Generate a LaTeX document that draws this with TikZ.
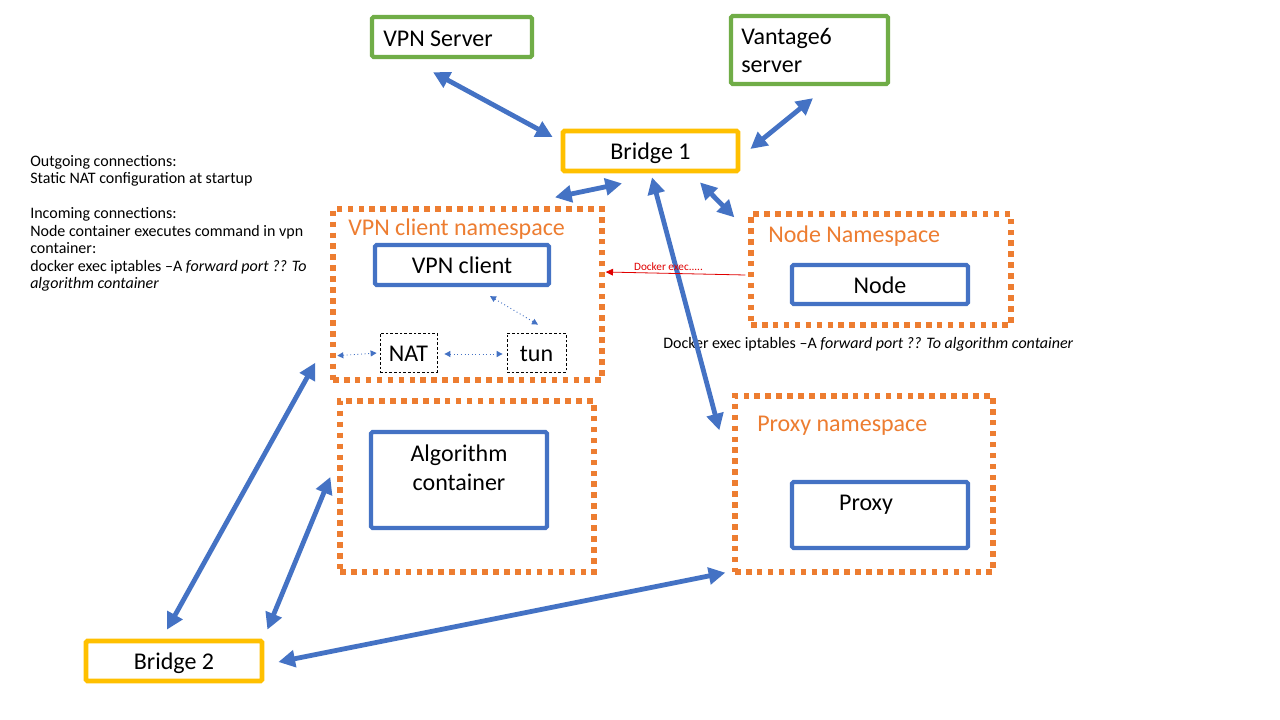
\documentclass[tikz,border=0pt]{standalone}
\usepackage{fontspec}
\setmainfont{Carlito}
\usetikzlibrary{arrows.meta,calc}
\definecolor{vblue}{HTML}{4472C4}
\definecolor{vgreen}{HTML}{70AD47}
\definecolor{vyellow}{HTML}{FFC000}
\definecolor{vorange}{HTML}{ED7D31}
\definecolor{vred}{HTML}{E00000}
\newcommand\myfs[2]{\fontsize{#1}{#2}\selectfont}
\begin{document}
\begin{tikzpicture}[x=0.75pt,y=-0.75pt,
  box/.style={rectangle, inner sep=0pt, line width=3.2pt, rounded corners=1.2pt, font=\myfs{18}{20}, text height=14.5pt, text depth=1.5pt},
  greenbox/.style={box, draw=vgreen},
  yellowbox/.style={box, draw=vyellow, line width=3.6pt},
  bluebox/.style={box, draw=vblue},
  nsbox/.style={rectangle, inner sep=0pt, draw=vorange, line width=4pt, dash pattern=on 4.2pt off 4pt},
  smallbox/.style={rectangle, inner sep=0pt, draw=black, line width=0.6pt, dash pattern=on 2pt off 1.5pt, font=\myfs{18}{20}, text height=14.5pt, text depth=1.5pt},
  nstitle/.style={anchor=west, inner sep=0pt, text=vorange, font=\myfs{18}{20}},
  plain/.style={inner sep=0pt, font=\myfs{18}{20}},
  big/.style={draw=vblue, line width=3.6pt, {Triangle[length=12.5pt,width=12.5pt]}-{Triangle[length=12.5pt,width=12.5pt]}},
  thin/.style={draw=vblue, line width=0.7pt, dotted, {Triangle[length=4.5pt,width=4.5pt]}-{Triangle[length=4.5pt,width=4.5pt]}},
  redarrow/.style={draw=vred, line width=0.6pt, -{Triangle[length=5.5pt,width=5pt]}}
]
\useasboundingbox[fill=white] (0,0) rectangle (1280,720);

% top servers
\node[greenbox, minimum width=120pt, minimum height=30pt] (vpnsrv) at (452,37) {};
\node[plain, anchor=west] (vpnsrvt) at (383,39) {VPN Server};
\node[greenbox, minimum width=117.75pt, minimum height=51pt] (v6srv) at (809.5,50) {};
\node[plain, anchor=north west, align=left] (v6srvt) at (741,28.5) {Vantage6\\[0.1ex]server};

% bridges
\node[yellowbox, minimum width=131.25pt, minimum height=30pt] (br1) at (650.5,151) {Bridge 1};
\node[yellowbox, minimum width=132pt, minimum height=30pt] (br2) at (174,661) {Bridge 2};

% VPN client namespace
\node[nsbox, minimum width=201.75pt, minimum height=128.25pt] (vcns) at (467.5,294.5) {};
\node[nstitle] (vcnst) at (348,229) {VPN client namespace};
\node[bluebox, minimum width=130.5pt, minimum height=30pt] (vpnc) at (462,265) {VPN client};
\node[smallbox, minimum width=42.75pt, minimum height=29.25pt] (nat) at (408.5,352.5) {NAT};
\node[smallbox, minimum width=44.25pt, minimum height=29.25pt] (tun) at (536.5,352.5) {tun};

% Node namespace
\node[nsbox, minimum width=195pt, minimum height=83.25pt] (nns) at (881,269.5) {};
\node[nstitle] (nnst) at (768,236) {Node Namespace};
\node[bluebox, minimum width=132pt, minimum height=29.25pt] (node) at (880,284.5) {Node};

% Proxy namespace
\node[nsbox, minimum width=193.5pt, minimum height=132pt] (pns) at (864,484) {};
\node[nstitle] (pnst) at (757,425.5) {Proxy namespace};
\node[bluebox, minimum width=132pt, minimum height=49.5pt] (prx) at (880,515) {};
\node[plain] (prxt) at (866,504.5) {Proxy};

% Algorithm namespace
\node[nsbox, minimum width=190.5pt, minimum height=128.25pt] (alns) at (467,486.5) {};
\node[bluebox, minimum width=132pt, minimum height=72pt] (alg) at (459,480) {};
\node[plain, align=center, font=\myfs{18}{21.8}] (algt) at (459,468) {Algorithm\\container};

% notes
\node[anchor=north west, inner sep=0pt, align=left, font=\myfs{12}{13.1}] (notes) at (30,155)
 {Outgoing connections:\\Static NAT configuration at startup\\[13.1pt]Incoming connections:\\Node container executes command in vpn\\container:\\docker exec iptables --A \textit{forward port ?? To}\\\textit{algorithm container}};
\node[anchor=west, inner sep=0pt, font=\myfs{12}{14}] (iptab) at (663,344)
 {Docker exec iptables --A \textit{forward port ?? To algorithm container}};

% thick connectors
\draw[big] ($(vpnsrv.south)+(-19,13)$) -- ($(br1.west)+(-8,-14)$);
\draw[big] ($(v6srv.south)+(3.5,12)$) -- ($(br1.east)+(10,-2)$);
\draw[big] ($(vcns.north)+(87.5,-9)$) -- ($(br1.south)+(-28.5,10)$);
\draw[big] ($(br1.south)+(1.5,4)$) -- ($(pns.north west)+(-13,37)$);
\draw[big] ($(br1.south)+(49.5,9)$) -- ($(nns.north west)+(-14,6)$);
\draw[big] ($(br2.north)+(-7,-9)$) -- ($(vcns.south west)+(-15,-20)$);
\draw[big] ($(br2.north east)+(3,-9)$) -- ($(alns.west)+(-7,-9.5)$);
\draw[big] ($(br2.east)+(14,1)$) -- ($(pns.south west)+(-7,-2)$);

% thin dotted connectors
\draw[thin] ($(vpnc.south)+(28,9)$) -- ($(tun.north)+(1.5,-8)$);
\draw[thin] ($(nat.east)+(7,1.5)$) -- ($(tun.west)+(-4,1.5)$);
\draw[thin] ($(vcns.south west)+(7,-27)$) -- ($(nat.west)+(-3,0.5)$);

% red docker exec
\draw[redarrow] ($(nns.west)+(-3,5.5)$) -- node[above=1.5pt, pos=0.55, inner sep=0pt, text=vred, font=\myfs{8.4}{9}] (dexec) {Docker exec.....} ($(vcns.east)+(1,-22.5)$);
\end{tikzpicture}
\end{document}
